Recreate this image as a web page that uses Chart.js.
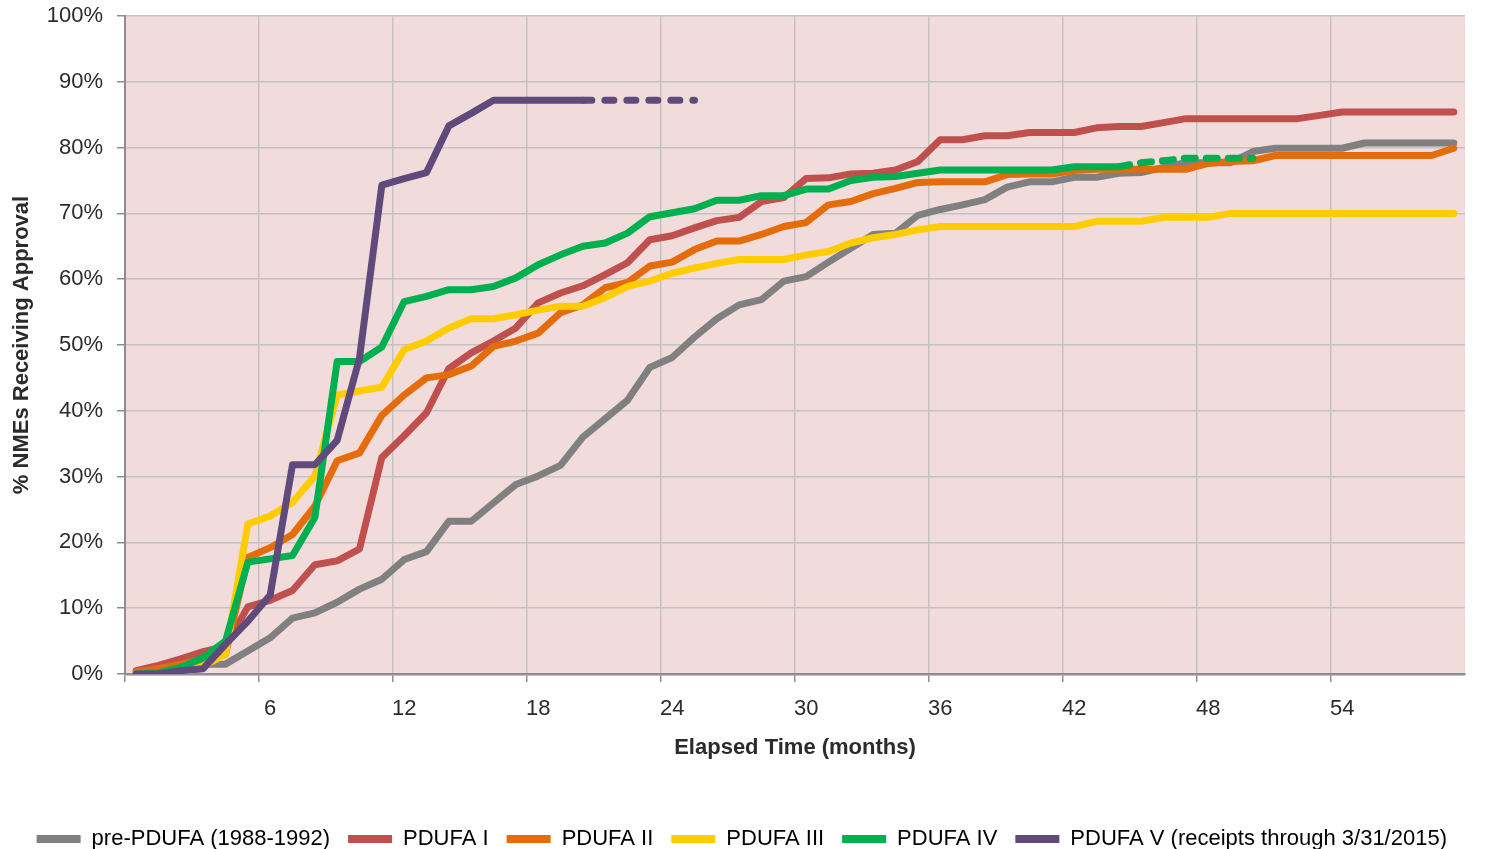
<!DOCTYPE html>
<html>
<head>
<meta charset="utf-8">
<title>NME approval by PDUFA cohort</title>
<script src="https://cdn.jsdelivr.net/npm/chart.js@4.4.1/dist/chart.umd.min.js"></script>
<style>
  html, body { margin: 0; padding: 0; background: #fff; }
  #wrap { width: 1488px; height: 849px; }
</style>
</head>
<body>
<div id="wrap"><canvas id="approvalChart"></canvas></div>
<script>
// ===== DATA =====
const months = [
  0, 1, 2, 3, 4, 5, 6, 7, 8, 9, 10, 11, 12, 13, 14, 15, 16, 17, 18, 19,
  20, 21, 22, 23, 24, 25, 26, 27, 28, 29, 30, 31, 32, 33, 34, 35, 36, 37, 38, 39,
  40, 41, 42, 43, 44, 45, 46, 47, 48, 49, 50, 51, 52, 53, 54, 55, 56, 57, 58, 59,
];

const seriesNames = [
  "pre-PDUFA (1988-1992)",
  "PDUFA I",
  "PDUFA II",
  "PDUFA III",
  "PDUFA IV",
  "PDUFA V (receipts through 3/31/2015)",
];

const prePdufa = [
  0, 0.3, 0.8, 1.5, 1.5, 3.5, 5.5, 8.5, 9.3, 10.9, 12.9, 14.4, 17.4, 18.6, 23.2, 23.2, 26, 28.8, 30.1, 31.7,
  36, 38.8, 41.6, 46.6, 48.1, 51.2, 54, 56.1, 56.9, 59.7, 60.4, 62.6, 64.7, 66.8, 67, 69.7, 70.6, 71.3, 72.1, 74,
  74.8, 74.8, 75.5, 75.5, 76.1, 76.2, 77, 77.7, 77.7, 77.7, 79.4, 79.9, 79.9, 79.9, 79.9, 80.7, 80.7, 80.7, 80.7, 80.7,
];

const pdufaI = [
  0.5, 1.3, 2.3, 3.4, 4.2, 10.2, 11.2, 12.7, 16.6, 17.2, 19, 32.9, 36.2, 39.7, 46.4, 48.8, 50.6, 52.6, 56.4, 57.9,
  59, 60.7, 62.5, 66, 66.6, 67.8, 68.9, 69.4, 71.8, 72.4, 75.3, 75.4, 76, 76.1, 76.6, 77.9, 81.2, 81.2, 81.8, 81.8,
  82.3, 82.3, 82.3, 83, 83.2, 83.2, 83.8, 84.4, 84.4, 84.4, 84.4, 84.4, 84.4, 84.9, 85.4, 85.4, 85.4, 85.4, 85.4, 85.4,
];

const pdufaII = [
  0.3, 0.8, 1.5, 2.3, 3, 17.7, 19.2, 21.2, 25.5, 32.4, 33.6, 39.3, 42.4, 45, 45.5, 46.8, 49.8, 50.6, 51.8, 54.9,
  56.1, 58.7, 59.5, 62, 62.6, 64.5, 65.8, 65.8, 66.8, 68, 68.6, 71.3, 71.8, 73, 73.8, 74.7, 74.8, 74.8, 74.8, 75.9,
  76, 76, 76.5, 76.7, 76.7, 76.7, 76.7, 76.7, 77.6, 77.9, 78, 78.8, 78.8, 78.8, 78.8, 78.8, 78.8, 78.8, 78.8, 79.9,
];

const pdufaIII = [
  0, 0, 0, 1.2, 3, 22.8, 24, 26.1, 30.1, 42.4, 43, 43.6, 49.3, 50.6, 52.6, 54, 54, 54.6, 55.3, 55.9,
  55.9, 57.2, 58.9, 59.7, 60.9, 61.7, 62.4, 63, 63, 63, 63.7, 64.2, 65.5, 66.3, 66.8, 67.5, 68, 68, 68, 68,
  68, 68, 68, 68.8, 68.8, 68.8, 69.4, 69.4, 69.4, 70, 70, 70, 70, 70, 70, 70, 70, 70, 70, 70,
];

const pdufaIV = [
  0, 0.2, 1, 2.5, 5, 17, 17.5, 18, 23.8, 47.5, 47.5, 49.7, 56.6, 57.4, 58.4, 58.4, 58.9, 60.2, 62.2, 63.7,
  65, 65.5, 67, 69.5, 70.1, 70.7, 72, 72, 72.7, 72.7, 73.7, 73.7, 75, 75.5, 75.6, 76.1, 76.6, 76.6, 76.6, 76.6,
  76.6, 76.6, 77.1, 77.1, 77.1, 77.7, 78, 78.4, 78.4, 78.4, 78.4,
];

const pdufaV = [
  0, 0, 0.5, 0.8, 4.5, 8, 12, 31.8, 31.8, 35.5, 48, 74.3, 75.3, 76.2, 83.3, 85.2, 87.2, 87.2, 87.2, 87.2,
  87.2, 87.2, 87.2, 87.2, 87.2, 87.2,
];

// index from which the cohort line turns dashed (still-open cohorts)
const pdufaIVDashFrom = 44;
const pdufaVDashFrom = 20;

const yTicks = [0, 10, 20, 30, 40, 50, 60, 70, 80, 90, 100];

// ===== STYLE =====
const colors = ["#808080", "#C0504D", "#E46C0A", "#FFCC00", "#00B050", "#604A7B"];
const dashes = [null, null, null, null, [11, 11], [9, 13]];
const gridColor = "#C3C3C3";
const axisColor = "#8E8E8E";
const textColor = "#2B2B2B";

Chart.defaults.font.family = '"Liberation Sans", Arial, sans-serif';
Chart.defaults.font.size = 22;
Chart.defaults.color = textColor;

const plotBackground = {
  id: "plotBackground",
  beforeDraw(chart) {
    const { ctx, chartArea } = chart;
    ctx.save();
    ctx.fillStyle = "#F2DCDB";
    ctx.fillRect(chartArea.left, chartArea.top, chartArea.right - chartArea.left, chartArea.bottom - chartArea.top);
    ctx.restore();
  },
};

function makeLine(index, data, dashFrom) {
  return {
    label: seriesNames[index],
    data: data,
    borderColor: colors[index],
    backgroundColor: colors[index],
    borderWidth: 7,
    borderCapStyle: "round",
    borderJoinStyle: "round",
    pointRadius: 0,
    pointHoverRadius: 0,
    tension: 0,
    fill: false,
    order: 6 - index,
    segment: {
      borderDash: (ctx) =>
        dashFrom !== undefined && ctx.p0DataIndex >= dashFrom ? dashes[index] : undefined,
    },
  };
}

function renderApprovalChart() {
  const ctx = document.getElementById("approvalChart");

  new Chart(ctx, {
    type: "line",
    data: {
      labels: months,
      datasets: [
        makeLine(0, prePdufa),
        makeLine(1, pdufaI),
        makeLine(2, pdufaII),
        makeLine(3, pdufaIII),
        makeLine(4, pdufaIV, pdufaIVDashFrom),
        makeLine(5, pdufaV, pdufaVDashFrom),
      ],
    },
    options: {
      responsive: true,
      maintainAspectRatio: false,
      animation: false,
      layout: {
        padding: { left: 0, right: 23, top: 16, bottom: -11 },
      },
      plugins: {
        tooltip: { enabled: false },
        legend: {
          position: "bottom",
          align: "end",
          labels: {
            boxWidth: 44,
            boxHeight: 8,
            padding: 18,
            font: { size: 22 },
            useBorderRadius: true,
            borderRadius: 4,
            color: textColor,
            sort: (a, b) => a.datasetIndex - b.datasetIndex,
            generateLabels: (chart) =>
              chart.data.datasets.map((ds, i) => ({
                text: ds.label,
                fillStyle: ds.borderColor,
                strokeStyle: ds.borderColor,
                lineWidth: 0,
                hidden: false,
                datasetIndex: i,
              })),
          },
        },
      },
      scales: {
        x: {
          type: "category",
          offset: true,
          afterFit: (scale) => {
            scale.height = 136;
          },
          grid: {
            offset: true,
            color: (c) => (c.index % 6 === 0 ? gridColor : "rgba(0,0,0,0)"),
            tickColor: (c) => (c.index % 6 === 0 ? axisColor : "rgba(0,0,0,0)"),
            lineWidth: 1.5,
            tickLength: 8,
          },
          border: { display: true, color: axisColor, width: 2.5 },
          ticks: {
            autoSkip: false,
            maxRotation: 0,
            padding: 14,
            callback: function (value, index) {
              return index > 0 && index % 6 === 0 ? this.getLabelForValue(value) : "";
            },
          },
          title: {
            display: true,
            text: "Elapsed Time (months)",
            font: { weight: "bold", size: 22 },
            padding: { top: 0, bottom: 49 },
          },
        },
        y: {
          min: 0,
          max: 100,
          afterFit: (scale) => {
            scale.width = 125;
            scale.paddingTop = 0;
            scale.paddingBottom = 0;
          },
          afterBuildTicks: (scale) => {
            scale.ticks = yTicks.map((v) => ({ value: v }));
          },
          grid: {
            color: gridColor,
            tickColor: axisColor,
            lineWidth: 1.5,
            tickLength: 8,
          },
          border: { display: true, color: axisColor, width: 2 },
          ticks: {
            padding: 14,
            callback: function (value) {
              return value + "%";
            },
          },
          title: {
            display: true,
            text: "% NMEs Receiving Approval",
            font: { weight: "bold", size: 22 },
            padding: { top: 9, bottom: 0 },
          },
        },
      },
    },
    plugins: [plotBackground],
  });
}

renderApprovalChart();
</script>
</body>
</html>
